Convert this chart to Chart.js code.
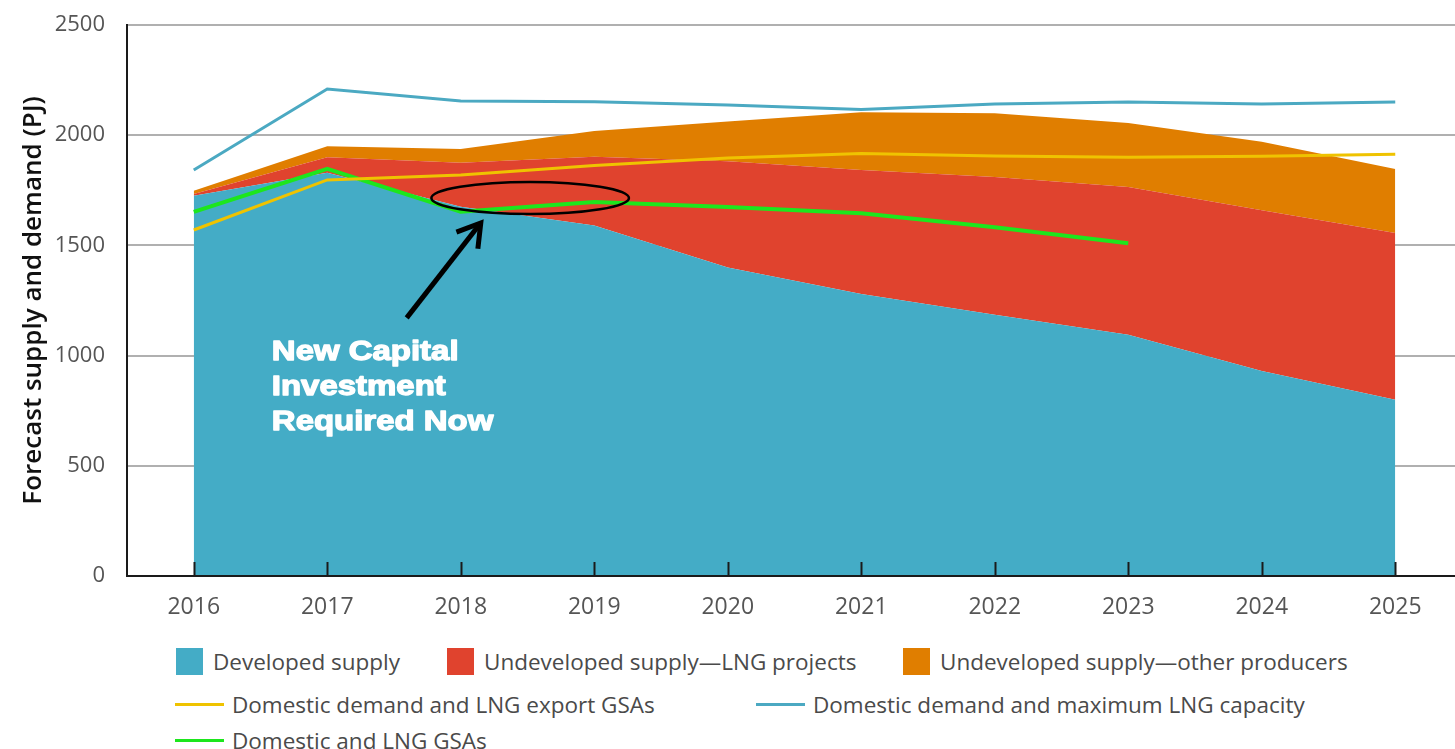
<!DOCTYPE html>
<html>
<head>
<meta charset="utf-8">
<script src="https://cdn.jsdelivr.net/npm/chart.js@4/dist/chart.umd.min.js"></script>
<style>
    body { margin: 0; background: #fff; overflow: hidden; width: 1455px; height: 749px; }
    #holder { position: absolute; left: 0; top: 0; width: 1462px; height: 640px; }
    .legend_item { position: absolute; font-family: "Open Sans", sans-serif; font-size: 22.5px; color: #4a4a4a;
        display: flex; align-items: center; white-space: nowrap; height: 30px; }
    .box { width: 27px; height: 27px; margin-right: 10px; }
    .line { width: 49px; height: 3px; margin-right: 8px; }
</style>
</head>
<body>
<div id="holder"><canvas id="chart" width="1462" height="640"></canvas></div>

<div class="legend_item" style="left:176px; top:646px"><span class="box" style="background:#44acc6"></span>Developed supply</div>
<div class="legend_item" style="left:447px; top:646px"><span class="box" style="background:#e0432e"></span>Undeveloped supply—LNG projects</div>
<div class="legend_item" style="left:903px; top:646px"><span class="box" style="background:#e07e00"></span>Undeveloped supply—other producers</div>
<div class="legend_item" style="left:175px; top:689px"><span class="line" style="background:#efc300"></span>Domestic demand and LNG export GSAs</div>
<div class="legend_item" style="left:756px; top:689px"><span class="line" style="background:#4ba9c2"></span>Domestic demand and maximum LNG capacity</div>
<div class="legend_item" style="left:175px; top:725px"><span class="line" style="background:#1de61d"></span>Domestic and LNG GSAs</div>

<script>
    var years = ['2016', '2017', '2018', '2019', '2020', '2021', '2022', '2023', '2024', '2025']
    var y_ticks = [0, 500, 1000, 1500, 2000, 2500]

    // stacked supply (PJ)
    var developed = [1725, 1830, 1675, 1590, 1400, 1280, 1185, 1095, 930, 800]
    var lng_projects = [8, 70, 200, 312, 482, 562, 625, 670, 730, 756]
    var other_producers = [15, 50, 62, 117, 180, 262, 290, 290, 310, 291]

    // demand lines (PJ)
    var demand_export_gsas = [1570, 1797, 1819, 1862, 1897, 1917, 1906, 1900, 1904, 1914]
    var demand_max_lng = [1842, 2210, 2155, 2152, 2137, 2117, 2142, 2151, 2142, 2151]
    var domestic_lng_gsas = [1652, 1847, 1653, 1697, 1674, 1646, 1582, 1510]

    var annotate = {
        id: 'annotate',
        afterDatasetsDraw: function (chart) {
            var ctx = chart.ctx
            var x = chart.scales.x, y = chart.scales.y
            var step = x.getPixelForValue(1) - x.getPixelForValue(0)
            var area = chart.chartArea

            // x axis line + inward tick marks
            ctx.save()
            ctx.strokeStyle = '#1a1a1a'
            ctx.lineWidth = 2
            ctx.beginPath()
            ctx.moveTo(area.left - 1, area.bottom)
            ctx.lineTo(area.right, area.bottom)
            years.forEach(function (yr, i) {
                var px = Math.round(x.getPixelForValue(i)) + 0.5
                ctx.moveTo(px, area.bottom)
                ctx.lineTo(px, area.bottom - 14)
            })
            ctx.stroke()

            // ellipse round the crossing
            var x2 = x.getPixelForValue(2)
            ctx.lineWidth = 2.5
            ctx.strokeStyle = '#000'
            ctx.beginPath()
            ctx.ellipse(x2 + 0.52 * step, y.getPixelForValue(1715), 0.74 * step, 16, 0, 0, Math.PI * 2)
            ctx.stroke()

            // arrow
            var tx = x2 + 0.15 * step, ty = y.getPixelForValue(1602)
            var sx = x2 - 0.405 * step, sy = y.getPixelForValue(1171)
            var ang = Math.atan2(ty - sy, tx - sx)
            ctx.lineWidth = 5
            ctx.lineCap = 'butt'
            ctx.beginPath()
            ctx.moveTo(sx, sy)
            ctx.lineTo(tx - 4 * Math.cos(ang), ty - 4 * Math.sin(ang))
            ctx.stroke()
            ctx.lineJoin = 'miter'
            ctx.beginPath()
            ctx.moveTo(tx - 26 * Math.cos(ang - 0.55), ty - 26 * Math.sin(ang - 0.55))
            ctx.lineTo(tx, ty)
            ctx.lineTo(tx - 26 * Math.cos(ang + 0.55), ty - 26 * Math.sin(ang + 0.55))
            ctx.stroke()

            // label
            var lx = x.getPixelForValue(0) + 0.585 * step
            var lines = ['New Capital', 'Investment', 'Required Now']
            var base = [980, 821, 662]
            ctx.fillStyle = '#fff'
            ctx.strokeStyle = '#fff'
            ctx.lineWidth = 1.3
            ctx.lineJoin = 'round'
            ctx.font = 'bold 27px "Liberation Sans", Arial, sans-serif'
            ctx.textBaseline = 'alphabetic'
            lines.forEach(function (t, i) {
                ctx.save()
                ctx.translate(lx, y.getPixelForValue(base[i]))
                ctx.scale(1.22, 1)
                ctx.fillText(t, 0, 0)
                ctx.strokeText(t, 0, 0)
                ctx.restore()
            })
            ctx.restore()
        }
    }

    new Chart(document.getElementById('chart'), {
        type: 'line',
        data: {
            labels: years,
            datasets: [
                {label: 'Developed supply', data: developed, stack: 'supply', order: 1,
                    backgroundColor: '#44acc6', borderWidth: 0, fill: 'origin'},
                {label: 'Undeveloped supply—LNG projects', data: lng_projects, stack: 'supply', order: 1,
                    backgroundColor: '#e0432e', borderWidth: 0, fill: '-1'},
                {label: 'Undeveloped supply—other producers', data: other_producers, stack: 'supply', order: 1,
                    backgroundColor: '#e07e00', borderWidth: 0, fill: '-1'},
                {label: 'Domestic demand and LNG export GSAs', data: demand_export_gsas, stack: 'a', order: 0,
                    borderColor: '#efc300', borderWidth: 3, fill: false},
                {label: 'Domestic demand and maximum LNG capacity', data: demand_max_lng, stack: 'b', order: 0,
                    borderColor: '#4ba9c2', borderWidth: 3, fill: false},
                {label: 'Domestic and LNG GSAs', data: domestic_lng_gsas, stack: 'c', order: 0,
                    borderColor: '#1de61d', borderWidth: 4, fill: false}
            ]
        },
        options: {
            responsive: false,
            animation: false,
            layout: {padding: {top: 25, left: 0, right: 0, bottom: 0}},
            elements: {point: {radius: 0}, line: {tension: 0}},
            plugins: {legend: {display: false}, tooltip: {enabled: false}},
            scales: {
                x: {
                    offset: true,
                    grid: {display: false, drawTicks: false},
                    border: {display: false},
                    ticks: {padding: 18, color: '#555', font: {family: 'Open Sans', size: 23}},
                    afterFit: function (s) { s.height = 64 }
                },
                y: {
                    stacked: true,
                    min: 0,
                    max: 2500,
                    afterBuildTicks: function (s) { s.ticks = y_ticks.map(function (v) { return {value: v} }) },
                    grid: {color: '#b0b0b0', lineWidth: 2, drawTicks: false},
                    border: {display: true, color: '#1a1a1a', width: 2},
                    ticks: {padding: 22, color: '#555', font: {family: 'Open Sans', size: 22, lineHeight: 0.2},
                        callback: function (v) { return String(v) }},
                    title: {display: true, text: 'Forecast supply and demand (PJ)', color: '#111',
                        padding: {top: 18, bottom: 0}, font: {family: 'Open Sans', size: 26, weight: '600'}},
                    afterFit: function (s) { s.width = 127 }
                }
            }
        },
        plugins: [annotate]
    })
</script>
</body>
</html>
